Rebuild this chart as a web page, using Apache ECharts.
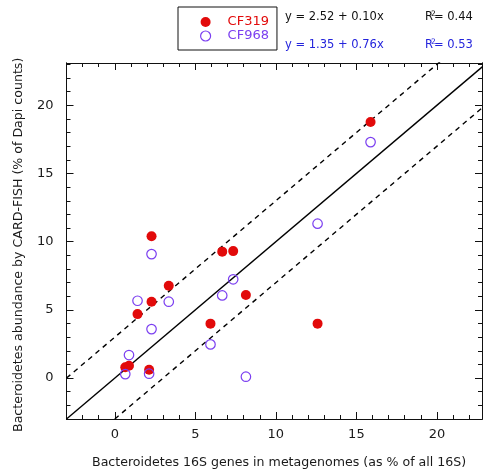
<!DOCTYPE html>
<html>
<head>
<meta charset="utf-8">
<script src="https://cdn.jsdelivr.net/npm/echarts@6/dist/echarts.min.js"></script>
<style>
  html, body { margin: 0; padding: 0; background: #fff; }
  #chart { width: 483px; height: 474px; }
</style>
</head>
<body>
<div id="chart"></div>
<script>
// Bacteroidetes share in metagenomes (x) vs CARD-FISH counts (y), per sample
const sampleX = [0.65, 0.88, 1.41, 2.13, 2.28, 2.28, 3.35, 5.94, 6.67, 7.35, 8.14, 12.59, 15.88];
const cf319Y  = [0.80, 0.90, 4.69, 0.61, 10.40, 5.60, 6.77, 3.99, 9.27, 9.31, 6.09, 3.99, 18.77];
const cf968Y  = [0.29, 1.69, 5.67, 0.32, 9.09, 3.59, 5.60, 2.47, 6.06, 7.24, 0.10, 11.32, 17.30];

// 1:1 line and the +/-3 envelope (end points, clipped to the plot)
const oneToOne   = [[-3, -3], [26, 26]];
const upperLimit = [[-3, 0], [26, 29]];
const lowerLimit = [[0, -3], [26, 23]];

// Axis ticks
const majorTicks = [0, 5, 10, 15, 20];
const minorTicks = [-2, -1, 1, 2, 3, 4, 6, 7, 8, 9, 11, 12, 13, 14, 16, 17, 18, 19, 21, 22, 23];

// Regression annotations
const fitCF319 = { eq: 'y = 2.52 + 0.10x', r2: '0.44' };
const fitCF968 = { eq: 'y = 1.35 + 0.76x', r2: '0.53' };

const RED = '#e20a0a';
const PURPLE = '#7b3ff0';
const BLUE = '#2424dc';
const FONT = 'DejaVu Sans';

const X_MIN = -3, X_MAX = 22.8, Y_MIN = -3, Y_MAX = 23.1;

function pair(xs, ys) { return xs.map((x, i) => [x, ys[i]]); }

function makeAxis(kind, position, ticks, len, showLabel) {
  return {
    type: 'value',
    position: position,
    min: kind === 'x' ? X_MIN : Y_MIN,
    max: kind === 'x' ? X_MAX : Y_MAX,
    splitLine: { show: false },
    axisLine: { show: true, onZero: false, lineStyle: { color: '#111', width: 1 } },
    axisTick: { show: true, inside: true, length: len, customValues: ticks,
                lineStyle: { color: '#111', width: 1 } },
    axisLabel: showLabel
      ? { show: true, customValues: majorTicks, fontFamily: FONT, fontSize: 13,
          color: '#1a1a1a', margin: kind === 'x' ? 9 : 13 }
      : { show: false }
  };
}

function eqGraphics(fit, y, color) {
  const f = '11.5px ' + FONT;
  return [
    { type: 'text', left: 285, top: y - 7, style: { text: fit.eq, fill: color, font: f } },
    { type: 'text', left: 425, top: y - 7, style: { text: 'R', fill: color, font: f } },
    { type: 'text', left: 431, top: y - 8, style: { text: '2', fill: color, font: '7.5px ' + FONT } },
    { type: 'text', left: 434, top: y - 7, style: { text: '= ' + fit.r2, fill: color, font: f } }
  ];
}

const chart = echarts.init(document.getElementById('chart'), null, { renderer: 'canvas' });

chart.setOption({
  animation: false,
  backgroundColor: '#fff',
  grid: { left: 66.5, top: 63, width: 415.5, height: 356, containLabel: false },
  xAxis: [
    makeAxis('x', 'bottom', majorTicks, 7, true),
    makeAxis('x', 'bottom', minorTicks, 4, false),
    makeAxis('x', 'top', majorTicks, 7, false),
    makeAxis('x', 'top', minorTicks, 4, false)
  ],
  yAxis: [
    makeAxis('y', 'left', majorTicks, 7, true),
    makeAxis('y', 'left', minorTicks, 4, false),
    makeAxis('y', 'right', majorTicks, 7, false),
    makeAxis('y', 'right', minorTicks, 4, false)
  ],
  legend: {
    left: 178, top: 7,
    orient: 'vertical',
    padding: [8, 8, 7, 22],
    itemGap: 0,
    itemWidth: 10, itemHeight: 10,
    borderColor: '#111', borderWidth: 1,
    selectedMode: false,
    formatter: name => '{s|}' + name,
    textStyle: { fontFamily: FONT, fontSize: 13, lineHeight: 14, rich: { s: { width: 12 } } },
    data: [
      { name: 'CF319', textStyle: { color: RED } },
      { name: 'CF968', textStyle: { color: PURPLE },
        itemStyle: { color: '#fff', borderColor: PURPLE, borderWidth: 1.2 } }
    ]
  },
  graphic: [
    ...eqGraphics(fitCF319, 18, '#111'),
    ...eqGraphics(fitCF968, 46, BLUE),
    { type: 'text', left: 92, top: 456,
      style: { text: 'Bacteroidetes 16S genes in metagenomes (as % of all 16S)',
               fill: '#1a1a1a', font: '12.6px ' + FONT } },
    { type: 'text', x: 12, y: 432, rotation: Math.PI / 2,
      style: { text: 'Bacteroidetes abundance by CARD-FISH (% of Dapi counts)',
               fill: '#1a1a1a', font: '12.6px ' + FONT, verticalAlign: 'top' } }
  ],
  series: [
    { type: 'line', data: oneToOne, symbol: 'none', silent: true, z: 1,
      lineStyle: { color: '#000', width: 1.4 } },
    { type: 'line', data: upperLimit, symbol: 'none', silent: true, z: 1,
      lineStyle: { color: '#000', width: 1.4, type: [5, 4.5] } },
    { type: 'line', data: lowerLimit, symbol: 'none', silent: true, z: 1,
      lineStyle: { color: '#000', width: 1.4, type: [5, 4.5] } },
    { name: 'CF319', type: 'scatter', data: pair(sampleX, cf319Y), symbol: 'circle', symbolSize: 10,
      itemStyle: { color: RED, opacity: 1 }, z: 3 },
    { name: 'CF968', type: 'scatter', data: pair(sampleX, cf968Y), symbol: 'circle', symbolSize: 9.5,
      itemStyle: { color: 'rgba(255,255,255,0)', borderColor: PURPLE, borderWidth: 1.2, opacity: 1 }, z: 4 }
  ]
});
</script>
</body>
</html>
